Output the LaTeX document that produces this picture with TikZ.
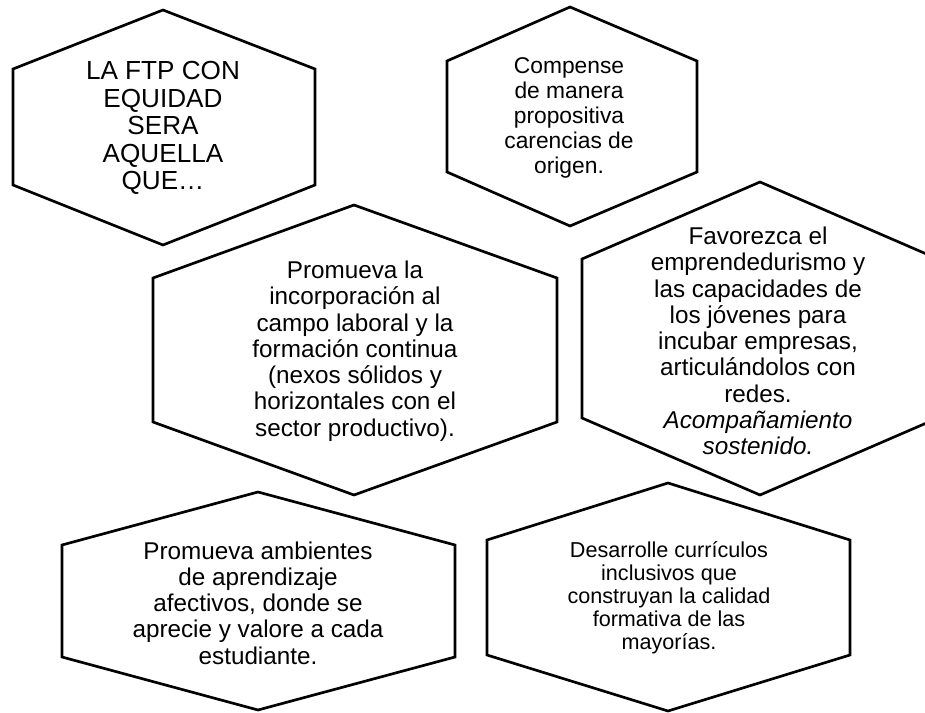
\documentclass[tikz,border=0pt]{standalone}
\usepackage{fontspec}
\setmainfont{Liberation Sans}
\usepackage{tikz}
\usetikzlibrary{positioning}

\begin{document}
\begin{tikzpicture}[
x=0.75pt, y=-0.75pt,
font=\fontsize{18.2}{19.7}\selectfont,
hexa/.style={draw, line width=2pt, line join=miter, fill=white},
hextext/.style={align=center, inner sep=0pt},
bigtext/.style={hextext, font=\fontsize{19.6}{20.6}\selectfont},
midtext/.style={hextext, font=\fontsize{17.1}{18.8}\selectfont},
smalltext/.style={hextext, font=\fontsize{16.2}{17.3}\selectfont}
]
    % Frame
    \useasboundingbox (0,0) rectangle (925,713);
    \clip (0,0) rectangle (925,713);

    % Hexagons
    \draw[hexa] (13,69) -- (163,10) -- (315,69) -- (315,185) -- (163,245) -- (13,185) -- cycle;
    \draw[hexa] (447,61) -- (570,7) -- (697,61) -- (697,172) -- (570,226) -- (447,172) -- cycle;
    \draw[hexa] (153,278) -- (354,205) -- (557,278) -- (557,422) -- (354,495) -- (153,422) -- cycle;
    \draw[hexa] (582,259) -- (760,182) -- (938,259) -- (938,418) -- (760,495) -- (582,418) -- cycle;
    \draw[hexa] (62,545) -- (258,492) -- (455,545) -- (455,657) -- (258,710) -- (62,657) -- cycle;
    \draw[hexa] (487,540) -- (668,483) -- (850,540) -- (850,655) -- (668,711) -- (487,655) -- cycle;

    % Texts
    \node[bigtext] (equidad) at (163,128) {LA FTP CON\\EQUIDAD\\SERA\\AQUELLA\\QUE…};
    \node[midtext] (compense) at (569,118) {Compense\\de manera\\propositiva\\carencias de\\origen.};
    \node[hextext] (laboral) at (355,351) {Promueva la\\incorporación al\\campo laboral y la\\formación continua\\(nexos sólidos y\\horizontales con el\\sector productivo).};
    \node[hextext] (emprende) at (758,341) {Favorezca el\\emprendedurismo y\\las capacidades de\\los jóvenes para\\incubar empresas,\\articulándolos con\\redes.\\\textit{Acompañamiento}\\\textit{sostenido.}};
    \node[hextext] (ambientes) at (258,603) {Promueva ambientes\\de aprendizaje\\afectivos, donde se\\aprecie y valore a cada\\estudiante.};
    \node[smalltext] (curriculos) at (669,598) {Desarrolle currículos\\inclusivos que\\construyan la calidad\\formativa de las\\mayorías.};

\end{tikzpicture}
\end{document}
